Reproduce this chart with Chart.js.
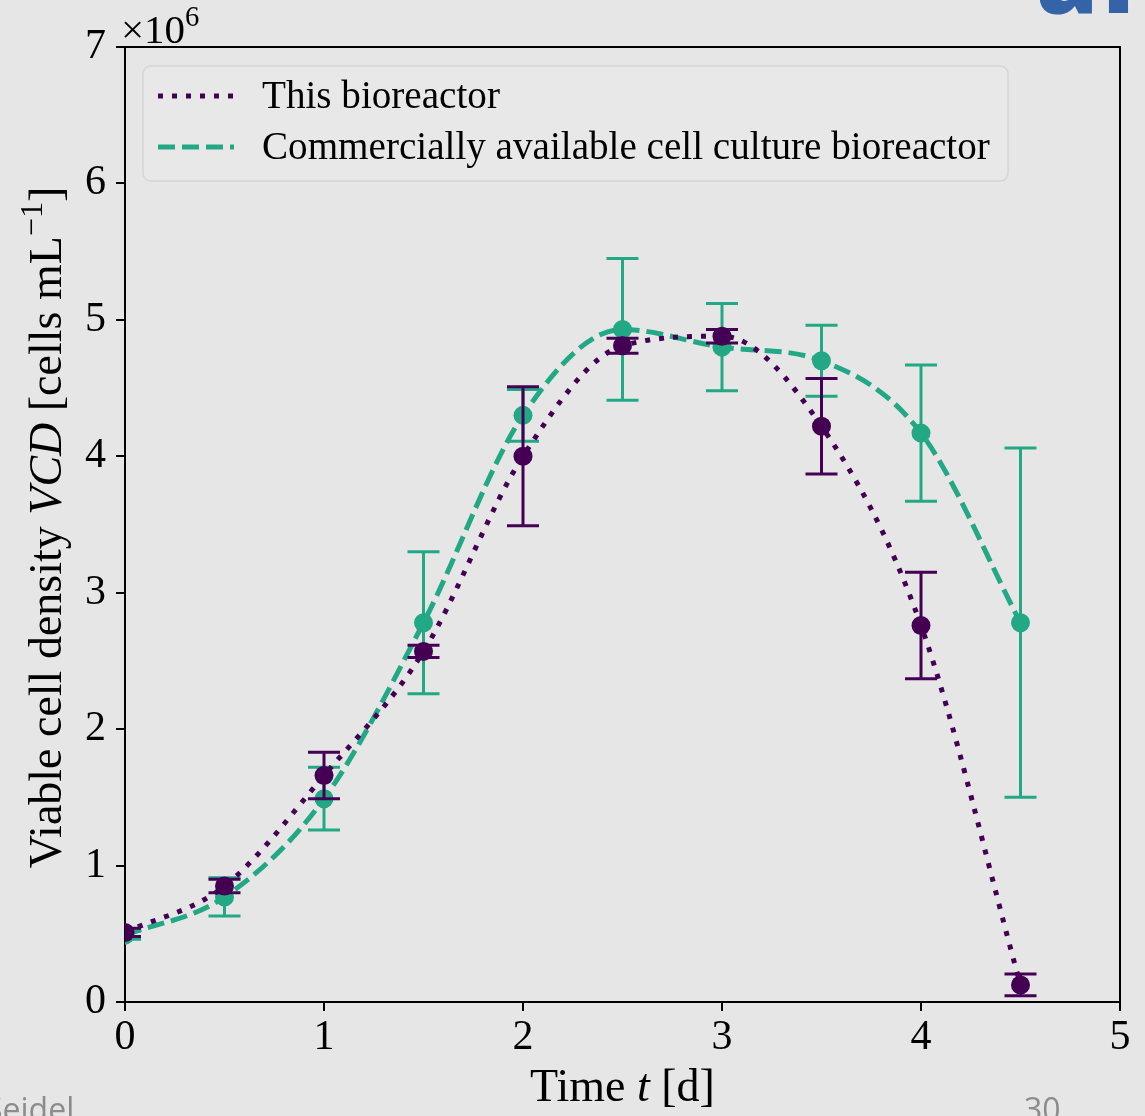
<!DOCTYPE html>
<html>
<head>
<meta charset="utf-8">
<script src="https://cdn.jsdelivr.net/npm/chart.js@4.4.1/dist/chart.umd.min.js"></script>
<style>
  html, body { margin: 0; padding: 0; background: #e6e6e6; overflow: hidden; }
  #wrap { position: relative; width: 1145px; height: 1116px; overflow: hidden; }
  canvas { position: absolute; left: 0; top: 0; }
  .foot { position: absolute; font-family: "Open Sans", sans-serif; color: #8c8c8c; font-size: 32px; line-height: 1; }
  .logo { position: absolute; font-family: "Open Sans", sans-serif; font-weight: 800; color: #3463a8; font-size: 100px; line-height: 1; letter-spacing: 4px; }
</style>
</head>
<body>
<div id="wrap">
  <canvas id="chart" width="1145" height="1116"></canvas>
  <div class="logo" style="left:1036px; top:-76px;">ai</div>
  <div class="foot" style="left:-15px; top:1093px;">Seidel</div>
  <div class="foot" style="left:1024px; top:1093px;">30</div>
</div>
<script>
// Sampling times in days
const times = [0, 0.5, 1, 1.5, 2, 2.5, 3, 3.5, 4, 4.5];

// Viable cell density, in units of 10^6 cells/mL
const thisReactorVcd = [0.51, 0.85, 1.66, 2.57, 4.00, 4.81, 4.88, 4.22, 2.76, 0.125];
const thisReactorErr = [0.03, 0.05, 0.17, 0.045, 0.51, 0.055, 0.05, 0.35, 0.39, 0.08];

const commercialVcd = [0.49, 0.77, 1.49, 2.78, 4.30, 4.93, 4.80, 4.70, 4.17, 2.78];
const commercialErr = [0.03, 0.14, 0.23, 0.52, 0.19, 0.52, 0.32, 0.26, 0.50, 1.28];

const xTicks = [0, 1, 2, 3, 4, 5];
const yTicks = [0, 1, 2, 3, 4, 5, 6, 7];

const labelThis = 'This bioreactor';
const labelCommercial = 'Commercially available cell culture bioreactor';

const PURPLE = '#440154';
const GREEN = '#22a884';
const BG = '#e6e6e6';
const SERIF = '"Liberation Serif", "Times New Roman", serif';

const toPoints = (xs, ys) => xs.map((x, i) => ({ x, y: ys[i] }));

// Text runs (normal / italic / superscript) laid out on one baseline
function fontFor(r, size) {
  const s = r.sup ? size * 0.7 : size;
  return (r.italic ? 'italic ' : '') + s + 'px ' + SERIF;
}
function runsWidth(ctx, runs, size) {
  let w = 0;
  for (const r of runs) {
    ctx.font = fontFor(r, size);
    w += ctx.measureText(r.text).width;
  }
  return w;
}
function drawRuns(ctx, runs, x, y, size) {
  let cx = x;
  ctx.textBaseline = 'alphabetic';
  ctx.textAlign = 'left';
  for (const r of runs) {
    ctx.font = fontFor(r, size);
    ctx.fillText(r.text, cx, r.sup ? y - size * 0.42 : y);
    cx += ctx.measureText(r.text).width;
  }
}
function fitSize(ctx, runs, target) {
  return target / runsWidth(ctx, runs, 1);
}

// Error bars, frame, legend, axis titles and offset label
const decorations = {
  id: 'decorations',
  beforeDraw(chart) {
    const ctx = chart.ctx;
    ctx.save();
    ctx.fillStyle = BG;
    ctx.fillRect(0, 0, chart.width, chart.height);
    ctx.restore();
  },
  beforeDatasetDraw(chart, args) {
    const ds = chart.data.datasets[args.index];
    if (!ds.errors) return;
    const { ctx, chartArea: a } = chart;
    const xs = chart.scales.x, ys = chart.scales.y;
    ctx.save();
    ctx.beginPath();
    ctx.rect(a.left, a.top, a.right - a.left, a.bottom - a.top);
    ctx.clip();
    ctx.strokeStyle = ds.borderColor;
    ctx.lineWidth = 3;
    ctx.setLineDash([]);
    ds.data.forEach((p, i) => {
      const e = ds.errors[i];
      const px = xs.getPixelForValue(p.x);
      const top = ys.getPixelForValue(p.y + e);
      const bot = ys.getPixelForValue(p.y - e);
      ctx.beginPath();
      ctx.moveTo(px, top); ctx.lineTo(px, bot);
      ctx.moveTo(px - 16, top); ctx.lineTo(px + 16, top);
      ctx.moveTo(px - 16, bot); ctx.lineTo(px + 16, bot);
      ctx.stroke();
    });
    ctx.restore();
  },
  afterDraw(chart) {
    const { ctx, chartArea: a } = chart;
    ctx.save();
    // top and right spines
    ctx.strokeStyle = '#000';
    ctx.lineWidth = 2;
    ctx.beginPath();
    ctx.moveTo(a.left, a.top); ctx.lineTo(a.right, a.top); ctx.lineTo(a.right, a.bottom);
    ctx.stroke();

    ctx.fillStyle = '#000';
    // offset label x10^6
    drawRuns(ctx, [{ text: '×10' }, { text: '6', sup: true }], 121, 43, 41);

    // x axis title
    const xRuns = [{ text: 'Time ' }, { text: 't', italic: true }, { text: ' [d]' }];
    const xs = Math.min(46, fitSize(ctx, xRuns, 189));
    const xw = runsWidth(ctx, xRuns, xs);
    drawRuns(ctx, xRuns, (a.left + a.right) / 2 - xw / 2, 1101, xs);

    // y axis title
    const yRuns = [{ text: 'Viable cell density ' }, { text: 'VCD', italic: true },
                   { text: ' [cells mL' }, { text: '−1', sup: true }, { text: ']' }];
    const ysz = Math.min(46, fitSize(ctx, yRuns, 714));
    const yw = runsWidth(ctx, yRuns, ysz);
    ctx.save();
    ctx.translate(61, (a.top + a.bottom) / 2 + 3);
    ctx.rotate(-Math.PI / 2);
    drawRuns(ctx, yRuns, -yw / 2, 0, ysz);
    ctx.restore();

    // legend
    const bx = 143, by = 66, bw = 865, bh = 115, r = 8;
    ctx.beginPath();
    ctx.moveTo(bx + r, by);
    ctx.arcTo(bx + bw, by, bx + bw, by + bh, r);
    ctx.arcTo(bx + bw, by + bh, bx, by + bh, r);
    ctx.arcTo(bx, by + bh, bx, by, r);
    ctx.arcTo(bx, by, bx + bw, by, r);
    ctx.closePath();
    ctx.fillStyle = '#e8e8e8';
    ctx.fill();
    ctx.strokeStyle = '#d5d5d5';
    ctx.lineWidth = 1.5;
    ctx.stroke();

    const entries = chart.data.datasets;
    const rowsY = [96, 147];
    const legendSize = Math.min(44, fitSize(ctx, [{ text: labelCommercial }], 728));
    entries.forEach((ds, i) => {
      const y = rowsY[i];
      ctx.strokeStyle = ds.borderColor;
      ctx.lineWidth = ds.borderWidth;
      ctx.lineCap = 'butt';
      ctx.setLineDash(ds.borderDash);
      ctx.beginPath();
      ctx.moveTo(158, y); ctx.lineTo(234, y);
      ctx.stroke();
      ctx.setLineDash([]);
      ctx.fillStyle = '#000';
      drawRuns(ctx, [{ text: ds.label }], 262, y + 12, legendSize);
    });
    ctx.restore();
  }
};

const tickFont = { family: SERIF, size: 42 };

new Chart(document.getElementById('chart'), {
  type: 'line',
  data: {
    datasets: [
      {
        label: labelThis,
        data: toPoints(times, thisReactorVcd),
        errors: thisReactorErr,
        borderColor: PURPLE,
        backgroundColor: PURPLE,
        borderWidth: 5,
        borderDash: [5, 9],
        borderCapStyle: 'butt',
        pointRadius: 9.5,
        pointBorderWidth: 0,
        cubicInterpolationMode: 'monotone',
        clip: 0
      },
      {
        label: labelCommercial,
        data: toPoints(times, commercialVcd),
        errors: commercialErr,
        borderColor: GREEN,
        backgroundColor: GREEN,
        borderWidth: 5,
        borderDash: [17, 7],
        borderCapStyle: 'butt',
        pointRadius: 9.5,
        pointBorderWidth: 0,
        cubicInterpolationMode: 'monotone',
        clip: 0
      }
    ]
  },
  options: {
    responsive: false,
    animation: false,
    events: [],
    layout: { padding: { left: 0, right: 25, top: 47, bottom: 0 } },
    plugins: { legend: { display: false }, tooltip: { enabled: false } },
    scales: {
      x: {
        type: 'linear',
        min: 0, max: 5,
        afterFit(s) { s.height = 114; },
        afterBuildTicks(s) { s.ticks = xTicks.map(v => ({ value: v })); },
        ticks: { font: tickFont, color: '#000', padding: 2, maxRotation: 0 },
        grid: { drawOnChartArea: false, drawTicks: true, tickLength: 9, color: '#000', lineWidth: 2 },
        border: { display: true, color: '#000', width: 2 }
      },
      y: {
        type: 'linear',
        min: 0, max: 7,
        afterFit(s) { s.width = 125; },
        afterBuildTicks(s) { s.ticks = yTicks.map(v => ({ value: v })); },
        ticks: { font: tickFont, color: '#000', padding: 10 },
        grid: { drawOnChartArea: false, drawTicks: true, tickLength: 9, color: '#000', lineWidth: 2 },
        border: { display: true, color: '#000', width: 2 }
      }
    }
  },
  plugins: [decorations]
});
</script>
</body>
</html>
